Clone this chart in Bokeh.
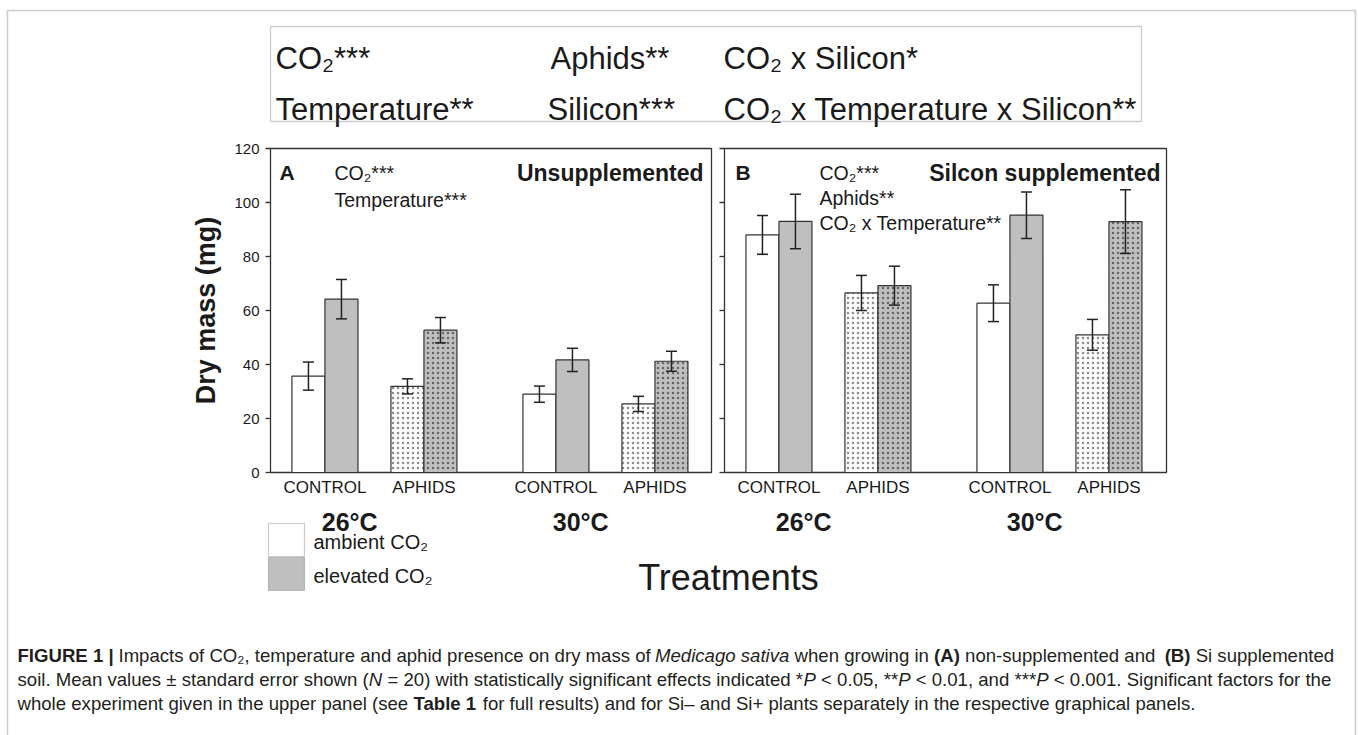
import math
from bokeh.plotting import figure
from bokeh.models import (Range1d, ColumnDataSource, Whisker, TeeHead, Label,
                          LabelSet, BoxAnnotation)
from bokeh.core.properties import value
from bokeh.embed import file_html
from bokeh.resources import INLINE

# ---------------- data ----------------
temperatures = ["26°C", "30°C"]
treatments = ["CONTROL", "APHIDS", "CONTROL", "APHIDS"]
aphids_present = [False, True, False, True]
co2_levels = ["ambient CO₂", "elevated CO₂"]
y_ticks = [0, 20, 40, 60, 80, 100, 120]

unsup_ambient = [35.7, 31.9, 29.0, 25.4]
unsup_elevated = [64.2, 52.7, 41.7, 41.2]
unsup_ambient_se = [5.2, 2.8, 3.0, 2.8]
unsup_elevated_se = [7.3, 4.7, 4.3, 3.7]

si_ambient = [88.0, 66.5, 62.7, 51.0]
si_elevated = [93.0, 69.2, 95.3, 92.9]
si_ambient_se = [7.2, 6.5, 6.8, 5.7]
si_elevated_se = [10.1, 7.2, 8.6, 11.8]

header_row1 = ["CO₂***", "Aphids**", "CO₂ x Silicon*"]
header_row2 = ["Temperature**", "Silicon***", "CO₂ x Temperature x Silicon**"]
panel_letters = ["A", "B"]
panel_titles = ["Unsupplemented", "Silcon supplemented"]
panel_a_effects = ["CO₂***", "Temperature***"]
panel_b_effects = ["CO₂***", "Aphids**", "CO₂ x Temperature**"]
y_label = "Dry mass (mg)"
x_label = "Treatments"

caption_lines = [
    [("FIGURE 1 |", "bold"), (" Impacts of CO₂, temperature and aphid presence on dry mass of ", "normal"),
     ("Medicago sativa", "italic"), (" when growing in ", "normal"), ("(A)", "bold"),
     (" non-supplemented and ", "normal"), ("(B)", "bold"), (" Si supplemented", "normal")],
    [("soil. Mean values ± standard error shown (", "normal"), ("N", "italic"),
     (" = 20) with statistically significant effects indicated *", "normal"), ("P", "italic"),
     (" < 0.05, **", "normal"), ("P", "italic"), (" < 0.01, and ***", "normal"), ("P", "italic"),
     (" < 0.001. Significant factors for the", "normal")],
    [("whole experiment given in the upper panel (see ", "normal"), ("Table 1", "bold"),
     (" for full results) and for Si– and Si+ plants separately in the respective graphical panels.", "normal")],
]

# ---------------- layout (page pixels) ----------------
W, H = 1358, 735
X0, PXU = 270.0, 33.0          # page x of data x=0, px per bar width
Y0, PYU = 472.0, 2.7           # page y of 0 mg, px per mg
FONT = "Liberation Sans"
INK = "#1a1a1a"
EDGE = "#333333"
GREY = "#bfbfbf"


def dx(px):
    return (px - X0) / PXU


def dy(py):
    return (Y0 - py) / PYU


panel_left = [dx(270), dx(724)]
panel_right = [dx(711), dx(1166)]
pair_rel = [1.65, 4.65, 8.65, 11.65]

p = figure(width=W, height=H, output_backend="svg", toolbar_location=None,
           x_range=Range1d(dx(0), dx(W)), y_range=Range1d(dy(H), dy(0)),
           x_axis_location=None, y_axis_location=None,
           min_border=0)
p.outline_line_color = None
p.xgrid.visible = False
p.ygrid.visible = False
p.background_fill_color = "white"
p.border_fill_color = "white"


def label(x, y, text, size, style="normal", align="left", baseline="alphabetic",
          color=INK, angle=0.0):
    p.add_layout(Label(x=x, y=y, text=text, text_font=FONT, text_font_size=size,
                       text_font_style=style, text_color=color, text_align=align,
                       text_baseline=baseline, angle=angle))


def label_set(xs, ys, texts, size, style="normal", align="center"):
    src = ColumnDataSource(dict(x=xs, y=ys, t=texts))
    p.add_layout(LabelSet(x="x", y="y", text="t", source=src, text_font=value(FONT),
                          text_font_size=value(size), text_font_style=value(style),
                          text_color=INK, text_align=align, text_baseline="middle"))


# ---- y axis (ticks from the data scale) ----
n = len(y_ticks)
p.segment(x0=[dx(265)] * n, x1=[panel_left[0]] * n, y0=y_ticks, y1=y_ticks,
          line_color=EDGE, line_width=1.3)
p.segment(x0=[panel_left[1] - 5 / PXU] * n, x1=[panel_left[1]] * n, y0=y_ticks, y1=y_ticks,
          line_color=EDGE, line_width=1.3)
label_set([dx(259)] * n, y_ticks, [str(v) for v in y_ticks], "15px", align="right")
label(dx(205), (y_ticks[0] + y_ticks[-1]) / 2, y_label, "27px", "bold", align="center",
      baseline="middle", angle=math.pi / 2)

# panel frames
p.quad(left=panel_left, right=panel_right, bottom=y_ticks[0], top=y_ticks[-1],
       fill_color=None, line_color=EDGE, line_width=1.3)

# bars
bx, btop, bfill, bhatch, bhcol, elo, ehi = [], [], [], [], [], [], []
panels = [(unsup_ambient, unsup_elevated, unsup_ambient_se, unsup_elevated_se),
          (si_ambient, si_elevated, si_ambient_se, si_elevated_se)]
centers = []
for k, (amb, ele, amb_se, ele_se) in enumerate(panels):
    for i in range(len(treatments)):
        c = panel_left[k] + pair_rel[i]
        centers.append(c)
        for off, val, se, fill, hc in [(-0.5, amb[i], amb_se[i], "white", "#777777"),
                                       (0.5, ele[i], ele_se[i], GREY, "#555555")]:
            bx.append(c + off)
            btop.append(val)
            bfill.append(fill)
            bhatch.append("dot" if aphids_present[i] else " ")
            bhcol.append(hc)
            elo.append(val - se)
            ehi.append(val + se)

bar_src = ColumnDataSource(dict(x=bx, top=btop, fill=bfill, hatch=bhatch, hcol=bhcol))
p.vbar(x="x", width=1.0, top="top", bottom=0, source=bar_src, fill_color="fill",
       line_color=EDGE, line_width=1.2, hatch_pattern="hatch", hatch_color="hcol",
       hatch_scale=5, hatch_weight=1.2, hatch_alpha=0.85)

err_src = ColumnDataSource(dict(x=bx, lower=elo, upper=ehi))
p.add_layout(Whisker(source=err_src, base="x", lower="lower", upper="upper",
                     line_color="#222222", line_width=1.5, level="overlay",
                     upper_head=TeeHead(size=11, line_color="#222222", line_width=1.5),
                     lower_head=TeeHead(size=11, line_color="#222222", line_width=1.5)))

# treatment labels
label_set(centers, [dy(487)] * len(centers), treatments * 2, "17px")
# temperature labels
tx, tt = [], []
for k in range(2):
    for j in range(2):
        tx.append(panel_left[k] + pair_rel[2 * j] + 0.75)
        tt.append(temperatures[j])
label_set(tx, [dy(521)] * 4, tt, "25px", "bold")

# panel letters / titles / effects
for k, (lx, rx) in enumerate([(279, 703), (735, 1160)]):
    label(dx(lx), dy(172), panel_letters[k], "21px", "bold")
    label(dx(rx), dy(172), panel_titles[k], "23px", "bold", align="right")
for j, t in enumerate(panel_a_effects):
    label(dx(334), dy(172 + 27 * j), t, "19.5px")
for j, t in enumerate(panel_b_effects):
    label(dx(819), dy(172 + 25 * j), t, "19.5px")

# header box
p.add_layout(BoxAnnotation(left=dx(270), right=dx(1141), top=dy(26), bottom=dy(121),
                           fill_alpha=0, line_color="#555555", line_width=1.3, level="overlay"))
cols = [275, 550, 723]
for j in range(3):
    label(dx(cols[j]), dy(58), header_row1[j], "31px")
    label(dx(cols[j] - (3 if j == 1 else 0)), dy(109), header_row2[j], "31px")

# outer border
p.add_layout(BoxAnnotation(left=dx(7), right=dx(1355), top=dy(10), bottom=dy(800),
                           fill_alpha=0, line_color="#555555", line_width=1.6, level="overlay"))

# legend
for j, (fill, t) in enumerate(zip(["white", GREY], co2_levels)):
    top_px = 523 + 34 * j
    p.add_layout(BoxAnnotation(left=dx(268), right=dx(304), top=dy(top_px), bottom=dy(top_px + 33),
                               fill_color=fill, fill_alpha=1, line_color="#555555",
                               line_width=1.2, level="overlay"))
    label(dx(313), dy(top_px + 18), t, "20px", baseline="middle")

label(dx(728), dy(577), x_label, "36px", align="center", baseline="middle")

# caption
REG = dict(zip("abcdefghijklmnopqrstuvwxyz",
               [556, 556, 500, 556, 556, 278, 556, 556, 222, 222, 500, 222, 833, 556, 556, 556,
                556, 333, 500, 278, 556, 500, 722, 500, 500, 500]))
REG.update(zip("ABCDEFGHIJKLMNOPQRSTUVWXYZ",
               [667, 667, 722, 722, 667, 611, 778, 722, 278, 500, 667, 556, 833, 722, 778, 667,
                778, 722, 667, 611, 722, 667, 944, 667, 667, 611]))
BOLD = dict(zip("abcdefghijklmnopqrstuvwxyz",
                [556, 611, 556, 611, 556, 333, 611, 611, 278, 278, 556, 278, 889, 611, 611, 611,
                 611, 389, 556, 333, 611, 556, 778, 556, 556, 500]))
BOLD.update(zip("ABCDEFGHIJKLMNOPQRSTUVWXYZ",
                [722, 722, 722, 722, 667, 611, 778, 722, 278, 556, 722, 611, 833, 722, 778, 667,
                 778, 722, 667, 611, 722, 667, 944, 667, 667, 611]))
PUN = {" ": 278, ".": 278, ",": 278, "(": 333, ")": 333, "=": 584, "*": 389, "<": 584,
       "±": 549, "–": 556, "+": 584, "|": 260, "₂": 333}
for d in "0123456789":
    PUN[d] = 556


def em_width(s, style):
    tab = BOLD if style == "bold" else REG
    return sum(tab.get(ch, PUN.get(ch, 556)) for ch in s) / 1000.0


line2_em = sum(em_width(s, st) for s, st in caption_lines[1])
cap_size = round((1330 - 17) / line2_em, 1)
for li, pieces in enumerate(caption_lines):
    xpos = 17.0
    for s, st in pieces:
        lead = len(s) - len(s.lstrip(" "))
        label(dx(xpos + lead * 0.278 * cap_size), dy(655 + 24 * li), s.strip(" "),
              f"{cap_size}px", st, color="#231f20")
        xpos += em_width(s, st) * cap_size

open("out.html", "w").write(file_html(p, INLINE))
